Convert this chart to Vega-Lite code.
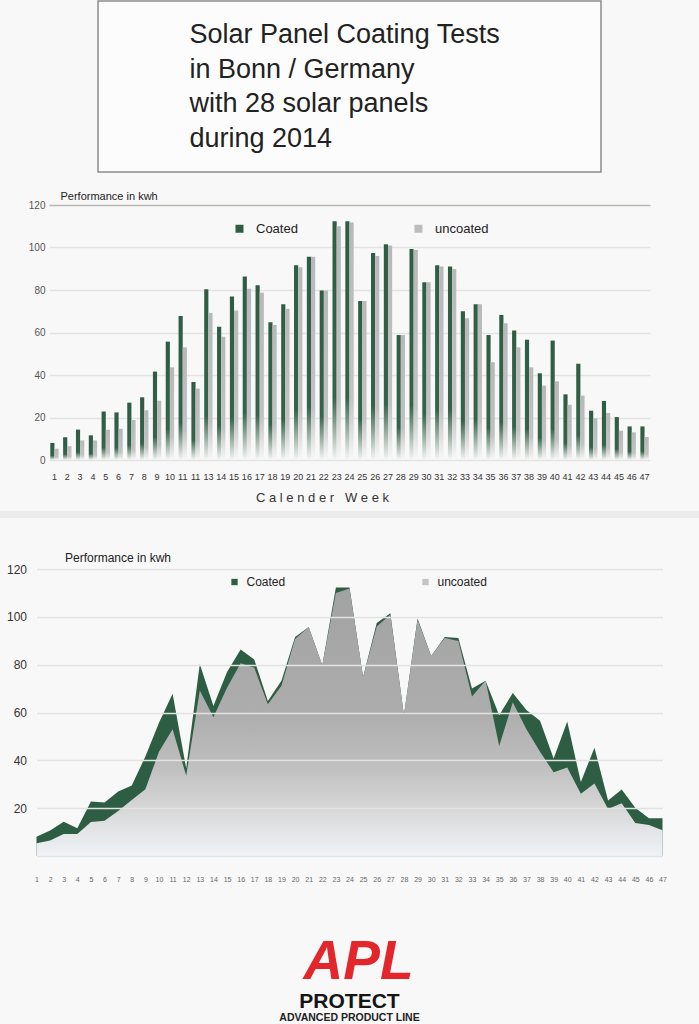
{
  "$schema": "https://vega.github.io/schema/vega-lite/v6.json",
  "background": "#f9f8f8",
  "padding": 0,
  "bounds": "flush",
  "center": true,
  "spacing": 0,
  "datasets": {
    "weekly": [
      {"week": 1, "type": "Coated", "kwh": 8.0}, {"week": 1, "type": "uncoated", "kwh": 5.3},
      {"week": 2, "type": "Coated", "kwh": 10.7}, {"week": 2, "type": "uncoated", "kwh": 6.5},
      {"week": 3, "type": "Coated", "kwh": 14.3}, {"week": 3, "type": "uncoated", "kwh": 9.2},
      {"week": 4, "type": "Coated", "kwh": 11.6}, {"week": 4, "type": "uncoated", "kwh": 9.2},
      {"week": 5, "type": "Coated", "kwh": 22.8}, {"week": 5, "type": "uncoated", "kwh": 14.2},
      {"week": 6, "type": "Coated", "kwh": 22.4}, {"week": 6, "type": "uncoated", "kwh": 14.7},
      {"week": 7, "type": "Coated", "kwh": 27.0}, {"week": 7, "type": "uncoated", "kwh": 18.8},
      {"week": 8, "type": "Coated", "kwh": 29.5}, {"week": 8, "type": "uncoated", "kwh": 23.4},
      {"week": 9, "type": "Coated", "kwh": 41.6}, {"week": 9, "type": "uncoated", "kwh": 27.9},
      {"week": 10, "type": "Coated", "kwh": 55.7}, {"week": 10, "type": "uncoated", "kwh": 43.6},
      {"week": 11, "type": "Coated", "kwh": 67.8}, {"week": 11, "type": "uncoated", "kwh": 53.0},
      {"week": 12, "type": "Coated", "kwh": 36.7}, {"week": 12, "type": "uncoated", "kwh": 33.6},
      {"week": 13, "type": "Coated", "kwh": 80.3}, {"week": 13, "type": "uncoated", "kwh": 69.2},
      {"week": 14, "type": "Coated", "kwh": 62.7}, {"week": 14, "type": "uncoated", "kwh": 58.0},
      {"week": 15, "type": "Coated", "kwh": 76.9}, {"week": 15, "type": "uncoated", "kwh": 70.4},
      {"week": 16, "type": "Coated", "kwh": 86.3}, {"week": 16, "type": "uncoated", "kwh": 80.6},
      {"week": 17, "type": "Coated", "kwh": 82.2}, {"week": 17, "type": "uncoated", "kwh": 78.7},
      {"week": 18, "type": "Coated", "kwh": 64.8}, {"week": 18, "type": "uncoated", "kwh": 63.5},
      {"week": 19, "type": "Coated", "kwh": 73.3}, {"week": 19, "type": "uncoated", "kwh": 71.2},
      {"week": 20, "type": "Coated", "kwh": 91.6}, {"week": 20, "type": "uncoated", "kwh": 90.7},
      {"week": 21, "type": "Coated", "kwh": 95.7}, {"week": 21, "type": "uncoated", "kwh": 95.7},
      {"week": 22, "type": "Coated", "kwh": 79.8}, {"week": 22, "type": "uncoated", "kwh": 79.8},
      {"week": 23, "type": "Coated", "kwh": 112.3}, {"week": 23, "type": "uncoated", "kwh": 110.0},
      {"week": 24, "type": "Coated", "kwh": 112.3}, {"week": 24, "type": "uncoated", "kwh": 111.8},
      {"week": 25, "type": "Coated", "kwh": 74.8}, {"week": 25, "type": "uncoated", "kwh": 74.8},
      {"week": 26, "type": "Coated", "kwh": 97.4}, {"week": 26, "type": "uncoated", "kwh": 96.0},
      {"week": 27, "type": "Coated", "kwh": 101.5}, {"week": 27, "type": "uncoated", "kwh": 100.9},
      {"week": 28, "type": "Coated", "kwh": 58.8}, {"week": 28, "type": "uncoated", "kwh": 58.8},
      {"week": 29, "type": "Coated", "kwh": 99.3}, {"week": 29, "type": "uncoated", "kwh": 98.8},
      {"week": 30, "type": "Coated", "kwh": 83.6}, {"week": 30, "type": "uncoated", "kwh": 83.6},
      {"week": 31, "type": "Coated", "kwh": 91.6}, {"week": 31, "type": "uncoated", "kwh": 91.1},
      {"week": 32, "type": "Coated", "kwh": 91.1}, {"week": 32, "type": "uncoated", "kwh": 89.9},
      {"week": 33, "type": "Coated", "kwh": 70.0}, {"week": 33, "type": "uncoated", "kwh": 66.7},
      {"week": 34, "type": "Coated", "kwh": 73.3}, {"week": 34, "type": "uncoated", "kwh": 73.3},
      {"week": 35, "type": "Coated", "kwh": 58.8}, {"week": 35, "type": "uncoated", "kwh": 46.0},
      {"week": 36, "type": "Coated", "kwh": 68.2}, {"week": 36, "type": "uncoated", "kwh": 64.3},
      {"week": 37, "type": "Coated", "kwh": 61.0}, {"week": 37, "type": "uncoated", "kwh": 53.0},
      {"week": 38, "type": "Coated", "kwh": 56.6}, {"week": 38, "type": "uncoated", "kwh": 43.6},
      {"week": 39, "type": "Coated", "kwh": 40.8}, {"week": 39, "type": "uncoated", "kwh": 35.0},
      {"week": 40, "type": "Coated", "kwh": 56.2}, {"week": 40, "type": "uncoated", "kwh": 37.0},
      {"week": 41, "type": "Coated", "kwh": 30.9}, {"week": 41, "type": "uncoated", "kwh": 26.0},
      {"week": 42, "type": "Coated", "kwh": 45.3}, {"week": 42, "type": "uncoated", "kwh": 30.3},
      {"week": 43, "type": "Coated", "kwh": 23.2}, {"week": 43, "type": "uncoated", "kwh": 19.6},
      {"week": 44, "type": "Coated", "kwh": 27.8}, {"week": 44, "type": "uncoated", "kwh": 22.1},
      {"week": 45, "type": "Coated", "kwh": 20.2}, {"week": 45, "type": "uncoated", "kwh": 13.8},
      {"week": 46, "type": "Coated", "kwh": 15.8}, {"week": 46, "type": "uncoated", "kwh": 13.0},
      {"week": 47, "type": "Coated", "kwh": 15.8}, {"week": 47, "type": "uncoated", "kwh": 10.8}
    ],
    "logo": [
      {"part": "APL"},
      {"part": "PROTECT"},
      {"part": "ADVANCED PRODUCT LINE"}
    ]
  },
  "vconcat": [
    {
      "width": 503,
      "height": 171,
      "view": {"fill": "#fdfcfc", "stroke": "#8c8c8c", "strokeWidth": 1.5},
      "data": {"values": [{}]},
      "mark": {
        "type": "text",
        "text": ["Solar Panel Coating Tests", "in Bonn / Germany", "with 28 solar panels", "during 2014"],
        "align": "left",
        "baseline": "alphabetic",
        "dx": -160,
        "dy": -43.5,
        "fontSize": 27,
        "lineHeight": 34.7,
        "color": "#222222"
      }
    },
    {"width": 10, "height": 33, "data": {"values": []}, "mark": "text"},
    {
      "width": 601,
      "height": 255,
      "data": {"name": "weekly"},
      "mark": {"type": "bar"},
      "encoding": {
        "x": {
          "field": "week",
          "type": "ordinal",
          "scale": {"paddingInner": 0.35, "paddingOuter": 0.1},
          "axis": {
            "labelAngle": 0,
            "ticks": false,
            "domain": false,
            "labelOverlap": false,
            "labelPadding": 12,
            "labelFontSize": 9,
            "labelColor": "#333333",
            "labelExpr": "datum.value == 12 ? '11' : datum.label",
            "title": "C a l e n d e r \u00a0 W e e k",
            "titleFontSize": 13,
            "titleFontWeight": "normal",
            "titleColor": "#333333",
            "titleX": 273,
            "titleY": 37,
            "titleAlign": "center",
            "titleBaseline": "middle"
          }
        },
        "xOffset": {"field": "type", "type": "nominal", "sort": ["Coated", "uncoated"], "scale": {"paddingInner": 0}},
        "y": {
          "field": "kwh",
          "type": "quantitative",
          "scale": {"domain": [0, 120]},
          "axis": {
            "values": [0, 20, 40, 60, 80, 100, 120],
            "ticks": false,
            "domain": false,
            "labelFontSize": 10,
            "labelColor": "#555555",
            "labelPadding": 4,
            "gridColor": {"condition": {"test": "datum.value === 120", "value": "#b9b9b2"}, "value": "#e3e3e3"},
            "gridWidth": 1.5,
            "title": "Performance in kwh",
            "titleAngle": 0,
            "titleAlign": "left",
            "titleBaseline": "bottom",
            "titleX": 11,
            "titleY": -4,
            "titleFontSize": 11,
            "titleFontWeight": "normal",
            "titleColor": "#222222"
          }
        },
        "color": {
          "field": "type",
          "type": "nominal",
          "scale": {"domain": ["Coated", "uncoated"], "range": ["#2e5c44", "#bcbcbc"]},
          "condition": [
            {
              "test": "datum.type === 'Coated'",
              "value": {"gradient": "linear", "x1": 0, "y1": 0, "x2": 0, "y2": 1,
                "stops": [{"offset": 0, "color": "#2e5c44"}, {"offset": 0.74, "color": "#35624b"}, {"offset": 1, "color": "#f6f7f6"}]}
            },
            {
              "test": "datum.type === 'uncoated'",
              "value": {"gradient": "linear", "x1": 0, "y1": 0, "x2": 0, "y2": 1,
                "stops": [{"offset": 0, "color": "#b8b8b8"}, {"offset": 0.74, "color": "#c2c2c2"}, {"offset": 1, "color": "#f8f8f8"}]}
            }
          ],
          "legend": {
            "orient": "none",
            "legendX": 184,
            "legendY": 17,
            "direction": "horizontal",
            "title": null,
            "symbolType": "square",
            "symbolSize": 64,
            "symbolStrokeWidth": 0,
            "labelFontSize": 13,
            "labelColor": "#222222",
            "labelOffset": 10,
            "columnPadding": 114
          }
        }
      }
    },
    {"width": 10, "height": 51, "data": {"values": []}, "mark": "text"},
    {
      "width": 699,
      "height": 7,
      "view": {"fill": "#ebebeb", "stroke": null},
      "data": {"values": []},
      "mark": "text"
    },
    {"width": 10, "height": 51, "data": {"values": []}, "mark": "text"},
    {
      "width": 626,
      "height": 287,
      "data": {"name": "weekly"},
      "encoding": {
        "x": {
          "field": "week",
          "type": "ordinal",
          "scale": {"type": "point", "padding": 0},
          "axis": {
            "labelAngle": 0,
            "ticks": false,
            "domain": false,
            "labelOverlap": false,
            "labelPadding": 19,
            "labelFontSize": 7,
            "labelColor": "#666666",
            "title": null
          }
        },
        "y": {
          "field": "kwh",
          "type": "quantitative",
          "stack": null,
          "scale": {"domain": [0, 120]},
          "axis": {
            "values": [0, 20, 40, 60, 80, 100, 120],
            "labelExpr": "datum.value === 0 ? '' : datum.label",
            "ticks": false,
            "domain": false,
            "zindex": 1,
            "labelFontSize": 12,
            "labelColor": "#333333",
            "labelPadding": 10,
            "gridColor": "#e2e2e2",
            "gridWidth": 1.5,
            "title": "Performance in kwh",
            "titleAngle": 0,
            "titleAlign": "left",
            "titleBaseline": "middle",
            "titleX": 28,
            "titleY": -12,
            "titleFontSize": 12,
            "titleFontWeight": "normal",
            "titleColor": "#222222"
          }
        },
        "color": {
          "field": "type",
          "type": "nominal",
          "scale": {"domain": ["Coated", "uncoated"], "range": ["#2d5e44", "#c4c4c4"]},
          "condition": {
            "test": "datum.type === 'uncoated'",
            "value": {"gradient": "linear", "x1": 0, "y1": 0, "x2": 0, "y2": 1,
              "stops": [{"offset": 0, "color": "#a2a2a2"}, {"offset": 0.46, "color": "#adadad"}, {"offset": 0.64, "color": "#bcbcbc"}, {"offset": 0.82, "color": "#d6d6d6"}, {"offset": 1, "color": "#f0f4f7"}]}
          },
          "legend": {
            "orient": "none",
            "legendX": 192,
            "legendY": 7,
            "direction": "horizontal",
            "title": null,
            "symbolType": "square",
            "symbolSize": 40,
            "symbolStrokeWidth": 0,
            "labelFontSize": 12,
            "labelColor": "#222222",
            "labelOffset": 6,
            "columnPadding": 134
          }
        }
      },
      "layer": [
        {
          "transform": [{"filter": "datum.type === 'Coated'"}],
          "mark": {"type": "area"}
        },
        {
          "transform": [{"filter": "datum.type === 'uncoated'"}],
          "mark": {"type": "area"}
        }
      ]
    },
    {"width": 10, "height": 70, "data": {"values": []}, "mark": "text"},
    {
      "width": 220,
      "height": 99,
      "data": {"name": "logo"},
      "encoding": {"text": {"field": "part", "type": "nominal"}},
      "layer": [
        {
          "transform": [{"filter": "datum.part === 'APL'"}],
          "mark": {"type": "text", "fontSize": 55, "fontWeight": "bold", "fontStyle": "italic", "color": "#e3262b", "baseline": "alphabetic", "dy": 3, "dx": 9}
        },
        {
          "transform": [{"filter": "datum.part === 'PROTECT'"}],
          "mark": {"type": "text", "fontSize": 21, "fontWeight": "bold", "color": "#151515", "baseline": "alphabetic", "dy": 32.5}
        },
        {
          "transform": [{"filter": "datum.part === 'ADVANCED PRODUCT LINE'"}],
          "mark": {"type": "text", "font": "Liberation Sans Narrow, Liberation Sans", "fontSize": 10.5, "fontWeight": "bold", "color": "#222222", "baseline": "alphabetic", "dy": 45.5}
        }
      ]
    }
  ],
  "resolve": {"scale": {"color": "independent"}, "legend": {"color": "independent"}},
  "config": {
    "font": "Liberation Sans",
    "view": {"stroke": null}
  }
}
